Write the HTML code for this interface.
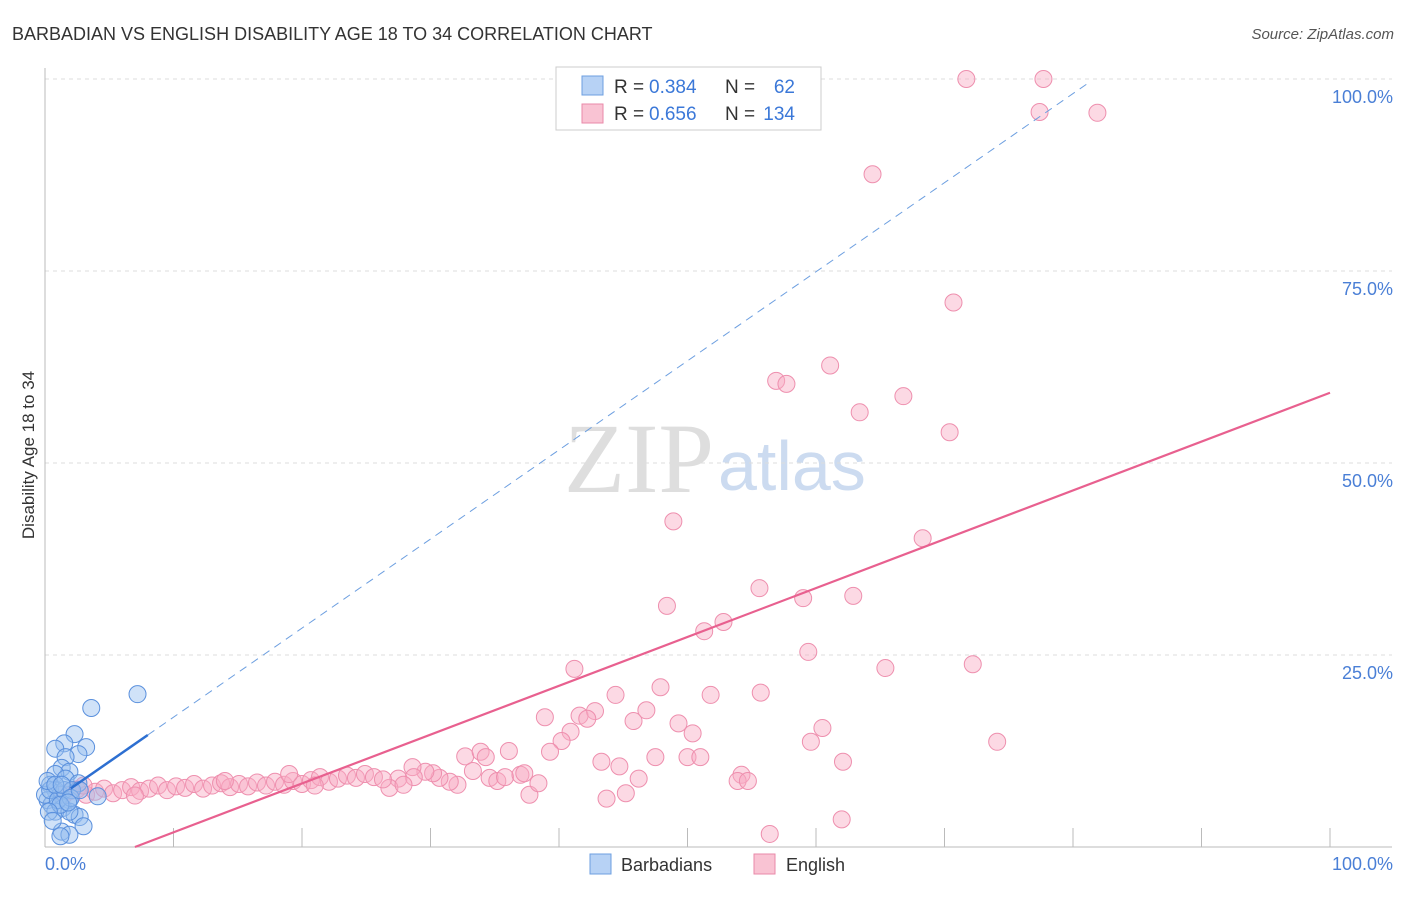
<!DOCTYPE html>
<html><head><meta charset="utf-8"><style>
body{margin:0;background:#fff;font-family:"Liberation Sans",sans-serif;}
</style></head><body>
<svg width="1406" height="892" xmlns="http://www.w3.org/2000/svg" style="font-family:'Liberation Sans',sans-serif">
<text x="12" y="40" font-size="18" fill="#333">BARBADIAN VS ENGLISH DISABILITY AGE 18 TO 34 CORRELATION CHART</text>
<text x="1394" y="39" font-size="15" fill="#555" font-style="italic" text-anchor="end">Source: ZipAtlas.com</text>
<text x="714" y="492" font-size="100" fill="#dedede" text-anchor="end" font-family="Liberation Serif,serif">ZIP</text>
<text x="718" y="490" font-size="70" fill="#ccdbf0">atlas</text>
<g id="grid"></g>
<g id="marks"></g>
<text transform="translate(34,455) rotate(-90)" font-size="17" fill="#333" text-anchor="middle">Disability Age 18 to 34</text>
<g>
<rect x="556" y="67" width="265" height="63" fill="#fff" stroke="#ccc"/>
<rect x="582" y="76" width="21" height="19" fill="#b7d2f5" stroke="#6d9fe0"/>
<rect x="582" y="104" width="21" height="19" fill="#f9c3d3" stroke="#e98aa8"/>
<text x="614" y="93" font-size="19" fill="#333">R = </text>
<text x="649" y="93" font-size="19" fill="#3b78d8">0.384</text>
<text x="725" y="93" font-size="19" fill="#333">N = </text>
<text x="795" y="93" font-size="19" fill="#3b78d8" text-anchor="end">62</text>
<text x="614" y="120" font-size="19" fill="#333">R = </text>
<text x="649" y="120" font-size="19" fill="#3b78d8">0.656</text>
<text x="725" y="120" font-size="19" fill="#333">N = </text>
<text x="795" y="120" font-size="19" fill="#3b78d8" text-anchor="end">134</text>
</g>
<g>
<rect x="590" y="854" width="21" height="20" fill="#b7d2f5" stroke="#6d9fe0"/>
<text x="621" y="871" font-size="18" fill="#333">Barbadians</text>
<rect x="754" y="854" width="21" height="20" fill="#f9c3d3" stroke="#e98aa8"/>
<text x="786" y="871" font-size="18" fill="#333">English</text>
</g>
</svg>
<script>
const yTicks=[25,50,75,100];
const yTickLabels=["25.0%","50.0%","75.0%","100.0%"];
const xTicks=[10,20,30,40,50,60,70,80,90,100];
const blueX=[7.2,3.6,2.3,1.5,3.2,0.8,2.6,1.6,1.3,1.9,0.8,1.6,2.6,0.4,0.8,1.2,0.2,1.9,4.1,0.5,1.4,2.3,2.7,0.8,1.9,3.0,1.3,1.9,1.2,0.0,0.4,1.0,1.5,2.1,0.2,0.8,1.3,2.0,1.2,2.7,0.3,0.6,1.8];
const blueY=[19.9,18.1,14.7,13.5,13.0,12.8,12.1,11.7,10.3,9.8,9.5,8.9,8.3,8.1,7.4,6.8,6.1,6.1,6.6,5.5,5.1,4.2,3.9,4.6,4.6,2.7,2.0,1.6,1.4,6.8,7.4,6.1,7.4,7.4,8.6,8.1,8.1,6.4,5.5,7.4,4.6,3.4,5.8];
const pinkX=[71.7,77.7,77.4,81.9,64.4,70.7,61.1,56.9,57.7,63.4,66.8,70.4,48.9,68.3,55.6,48.4,59.0,62.9,51.3,52.8,59.4,41.2,65.4,72.2,47.9,44.4,51.8,55.7,38.9,41.6,42.8,42.2,45.8,46.8,49.3,50.4,60.5,59.6,74.1,40.9,40.2,39.3,36.1,32.7,33.9,34.3,33.3,43.3,44.7,47.5,50.0,51.0,62.1,54.2,53.9,54.7,46.2,45.2,43.7,37.7,38.4,34.6,35.2,35.8,37.0,37.3,32.1,31.5,30.7,30.2,29.6,28.6,28.7,27.5,26.8,27.9,56.4,62.0,
2.5,3.2,3.9,4.6,5.3,6.0,6.7,7.4,8.1,8.8,9.5,10.2,10.9,11.6,12.3,13.0,13.7,14.4,15.1,15.8,16.5,17.2,17.9,18.6,19.3,20.0,20.7,21.4,22.1,22.8,23.5,24.2,24.9,25.6,26.3,19.0,21.0,14.0,7.0,3.0,1.5,2.0];
const pinkY=[100,100,95.7,95.6,87.6,70.9,62.7,60.7,60.3,56.6,58.7,54.0,42.4,40.2,33.7,31.4,32.4,32.7,28.1,29.3,25.4,23.2,23.3,23.8,20.8,19.8,19.8,20.1,16.9,17.1,17.7,16.7,16.4,17.8,16.1,14.8,15.5,13.7,13.7,15.0,13.8,12.4,12.5,11.8,12.4,11.7,9.9,11.1,10.5,11.7,11.7,11.7,11.1,9.4,8.6,8.6,8.9,7.0,6.3,6.8,8.3,9.0,8.6,9.1,9.4,9.6,8.1,8.5,9.0,9.6,9.8,10.4,9.1,8.9,7.7,8.1,1.7,3.6,
7.5,6.8,7.2,7.6,7.0,7.4,7.8,7.3,7.6,8.0,7.4,7.9,7.7,8.2,7.6,8.0,8.3,7.8,8.2,7.9,8.4,8.0,8.5,8.1,8.6,8.2,8.7,9.1,8.5,8.9,9.3,9.0,9.5,9.1,8.8,9.5,8.0,8.6,6.7,8.0,6.8,7.3];
const blueFit=[5.3,1.16], pinkFit=[-4.45,0.636];
const X=v=>45+v*12.85, Y=v=>847-v*7.68;
const NS="http://www.w3.org/2000/svg";
function mk(tag,attrs,parent){const e=document.createElementNS(NS,tag);for(const k in attrs)e.setAttribute(k,attrs[k]);parent.appendChild(e);return e;}
const g=document.getElementById('grid'), m=document.getElementById('marks');
yTicks.forEach((t,i)=>{
 const l=mk('line',{x1:45,x2:1392,y1:Y(t),y2:Y(t),stroke:'#ddd','stroke-dasharray':'4,4'},g);
 
 
 const tx=mk('text',{x:1393,y:Y(t)+24,'font-size':18,fill:'#4a7fd6','text-anchor':'end'},g);
 tx.textContent=yTickLabels[i];
 
 
});
const ax=mk('line',{x1:45,x2:45,y1:68,y2:847,stroke:'#bbb'},g);


const bx=mk('line',{x1:45,x2:1392,y1:847,y2:847,stroke:'#bbb'},g);


xTicks.forEach(t=>{const l=mk('line',{x1:X(t),x2:X(t),y1:828,y2:847,stroke:'#bbb'},g);
 
 });
const x0=mk('text',{x:45,y:870,'font-size':18,fill:'#4a7fd6'},g);x0.textContent='0.0%';


const x1=mk('text',{x:1393,y:870,'font-size':18,fill:'#4a7fd6','text-anchor':'end'},g);x1.textContent='100.0%';


pinkX.forEach((x,i)=>{const c=mk('circle',{cx:X(x),cy:Y(pinkY[i]),r:8.5,fill:'rgba(248,170,195,0.45)',stroke:'#ee8fae','stroke-width':1},m);
 
 });
blueX.forEach((x,i)=>{const c=mk('circle',{cx:X(x),cy:Y(blueY[i]),r:8.5,fill:'rgba(150,190,240,0.45)',stroke:'#5a90dd','stroke-width':1},m);
 
 });
const pl=mk('line',{x1:X(7),y1:Y(pinkFit[0]+pinkFit[1]*7),x2:X(100),y2:Y(pinkFit[0]+pinkFit[1]*100),stroke:'#e8608f','stroke-width':2.2},m);


const bl=mk('line',{x1:X(2),y1:Y(blueFit[0]+blueFit[1]*2),x2:X(8),y2:Y(blueFit[0]+blueFit[1]*8),stroke:'#2d6fd1','stroke-width':2.5},m);


const bd=mk('line',{x1:X(8),y1:Y(blueFit[0]+blueFit[1]*8),x2:X(81.3),y2:Y(blueFit[0]+blueFit[1]*81.3),stroke:'#6d9fe0','stroke-width':1,'stroke-dasharray':'8,6'},m);


</script>
</body></html>
